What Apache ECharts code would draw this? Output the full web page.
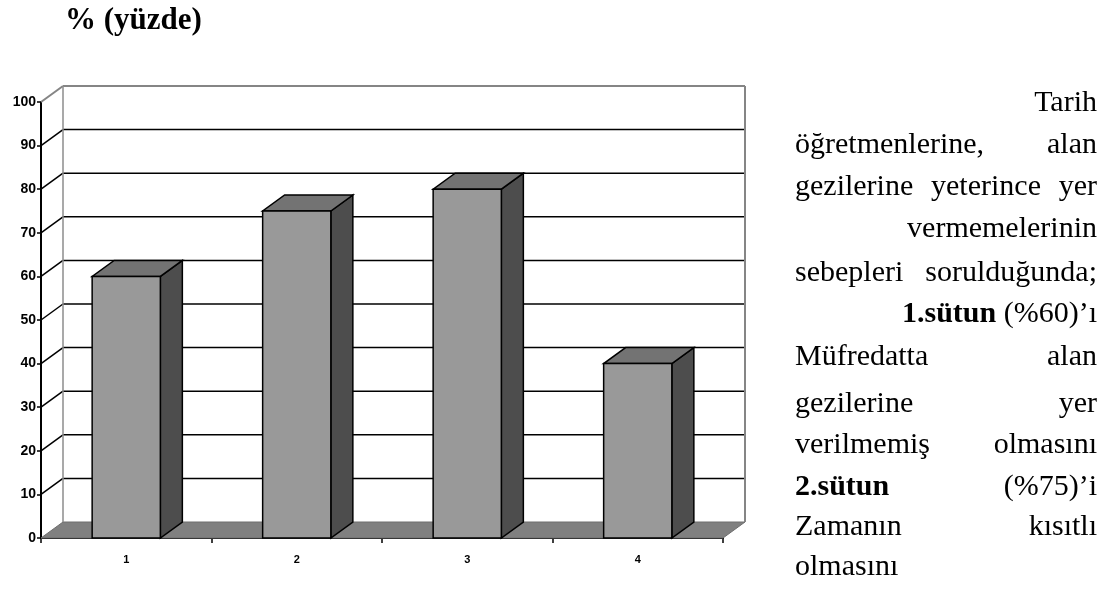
<!DOCTYPE html>
<html>
<head>
<meta charset="utf-8">
<script src="https://cdn.jsdelivr.net/npm/echarts@6/dist/echarts.min.js"></script>
<style>
  html, body { margin: 0; padding: 0; background: #fff; }
  #chart { width: 1113px; height: 592px; }
</style>
</head>
<body>
<div id="chart"></div>
<script>
// veriler
const categories = ['1', '2', '3', '4'];
const values = [60, 75, 80, 40];
const yTicks = [0, 10, 20, 30, 40, 50, 60, 70, 80, 90, 100];

// 3B görünüm için arka duvar kayması (piksel)
const DX = 22;
const DY = -16;

const serif = '"Liberation Serif", "Times New Roman", serif';
const sans = '"Liberation Sans", Arial, sans-serif';

// sağdaki paragraf: [sol, orta, sağ] kelimeler
const paraLines = [
  ['', '', 'Tarih'],
  ['öğretmenlerine,', '', 'alan'],
  ['gezilerine', 'yeterince', 'yer'],
  ['', '', 'vermemelerinin'],
  ['sebepleri', '', 'sorulduğunda;'],
  ['', '', '{b|1.sütun} (%60)’ı'],
  ['Müfredatta', '', 'alan'],
  ['gezilerine', '', 'yer'],
  ['verilmemiş', '', 'olmasını'],
  ['{b|2.sütun}', '', '(%75)’i'],
  ['Zamanın', '', 'kısıtlı'],
  ['olmasını', '', '']
];
const paraY = [103, 145, 187, 229, 273, 314, 357, 404, 445, 487, 527, 567];

function wallItem(params, api) {
  const cs = params.coordSys;
  const left = cs.x, right = cs.x + cs.width;
  const y0 = api.coord([0, 0])[1];
  const yTop = api.coord([0, 100])[1];
  const kids = [];
  // zemin
  kids.push({
    type: 'polygon',
    shape: { points: [[left, y0], [right, y0], [right + DX, y0 + DY], [left + DX, y0 + DY]] },
    style: { fill: '#808080', stroke: '#6e6e6e', lineWidth: 1 }
  });
  yTicks.forEach(function (v) {
    if (v === 0) return;
    const y = api.coord([0, v])[1];
    const col = v === 100 ? '#858585' : '#000';
    const lw = v === 100 ? 2 : 1.5;
    kids.push({
      type: 'line',
      shape: { x1: left + DX, y1: y + DY, x2: right + DX, y2: y + DY },
      style: { stroke: col, lineWidth: lw }
    });
    kids.push({
      type: 'line',
      shape: { x1: left, y1: y, x2: left + DX, y2: y + DY },
      style: { stroke: col, lineWidth: lw }
    });
  });
  // duvar kenarları
  kids.push({
    type: 'line',
    shape: { x1: left + DX, y1: yTop + DY, x2: left + DX, y2: y0 + DY },
    style: { stroke: '#8c8c8c', lineWidth: 1.5 }
  });
  kids.push({
    type: 'line',
    shape: { x1: right + DX, y1: yTop + DY, x2: right + DX, y2: y0 + DY },
    style: { stroke: '#858585', lineWidth: 2 }
  });
  return { type: 'group', children: kids };
}

function barItem(params, api) {
  const c = api.coord([api.value(0), api.value(1)]);
  const base = api.coord([api.value(0), 0]);
  const w = api.size([1, 0])[0] * 0.4;
  const xl = c[0] - w / 2, xr = c[0] + w / 2;
  const yt = c[1], yb = base[1];
  const line = { stroke: '#000', lineWidth: 1.5, lineJoin: 'miter' };
  return {
    type: 'group',
    children: [
      {
        type: 'polygon',
        shape: { points: [[xr, yt], [xr + DX, yt + DY], [xr + DX, yb + DY], [xr, yb]] },
        style: Object.assign({ fill: '#4d4d4d' }, line)
      },
      {
        type: 'polygon',
        shape: { points: [[xl, yt], [xr, yt], [xr + DX, yt + DY], [xl + DX, yt + DY]] },
        style: Object.assign({ fill: '#737373' }, line)
      },
      {
        type: 'rect',
        shape: { x: xl, y: yt, width: w, height: yb - yt },
        style: Object.assign({ fill: '#999999' }, line)
      }
    ]
  };
}

const graphics = [
  {
    type: 'text', left: 65, top: 5,
    style: { text: '% (yüzde)', font: 'bold 31px ' + serif, fill: '#000' }
  }
];
const rich = { b: { fontWeight: 'bold', fontSize: 30, fontFamily: serif } };
paraLines.forEach(function (ln, i) {
  const y = paraY[i];
  if (ln[0]) {
    graphics.push({
      type: 'text', x: 795, y: y,
      style: { text: ln[0], font: '30px ' + serif, fill: '#000', align: 'left', verticalAlign: 'middle', rich: rich }
    });
  }
  if (ln[1]) {
    graphics.push({
      type: 'text', x: 986, y: y,
      style: { text: ln[1], font: '30px ' + serif, fill: '#000', align: 'center', verticalAlign: 'middle' }
    });
  }
  if (ln[2]) {
    graphics.push({
      type: 'text', x: 1097, y: y,
      style: { text: ln[2], font: '30px ' + serif, fill: '#000', align: 'right', verticalAlign: 'middle', rich: rich }
    });
  }
});

const chart = echarts.init(document.getElementById('chart'));
chart.setOption({
  animation: false,
  backgroundColor: '#fff',
  grid: { left: 41, right: 390, top: 102, bottom: 54 },
  xAxis: {
    type: 'category',
    data: categories,
    boundaryGap: true,
    axisLine: { show: true, lineStyle: { color: '#000', width: 2 } },
    axisTick: { show: true, length: 5, lineStyle: { color: '#000', width: 1.5 } },
    axisLabel: { color: '#000', fontWeight: 'bold', fontSize: 11, fontFamily: sans, margin: 16 },
    splitLine: { show: false }
  },
  yAxis: {
    type: 'value',
    min: 0,
    max: 100,
    interval: 10,
    axisLine: { show: true, lineStyle: { color: '#000', width: 2 } },
    axisTick: { show: true, length: 4, lineStyle: { color: '#000', width: 1.5 } },
    axisLabel: { color: '#000', fontWeight: 'bold', fontSize: 14, fontFamily: sans, margin: 5 },
    splitLine: { show: false }
  },
  graphic: graphics,
  series: [
    {
      type: 'custom',
      renderItem: wallItem,
      data: [[0, 0]],
      clip: false,
      z: 1,
      silent: true
    },
    {
      type: 'custom',
      renderItem: barItem,
      data: values.map(function (v, i) { return [i, v]; }),
      clip: false,
      z: 3
    }
  ]
});
</script>
</body>
</html>
